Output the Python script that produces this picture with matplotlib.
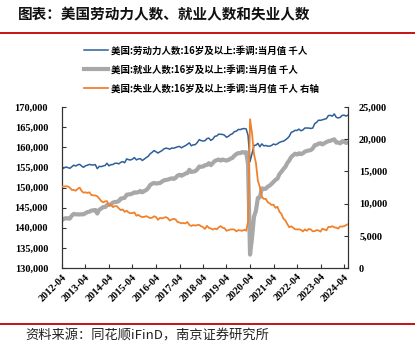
import matplotlib
matplotlib.use("Agg")
import matplotlib.pyplot as plt
import matplotlib.dates as mdates
from matplotlib.font_manager import FontProperties
from matplotlib.lines import Line2D
from matplotlib.ticker import FuncFormatter, MultipleLocator
import pandas as pd

plt.rcParams['font.family'] = ['Noto Sans CJK SC', 'DejaVu Sans']

# Monthly, seasonally adjusted, thousands of persons (2012-04 .. 2024-06)
months = pd.date_range("2012-04-01", "2024-06-01", freq="MS")

labor_force = [
    154545, 154866, 155083, 154948, 154763, 155160, 155554, 155338, 155628,
    155763, 155312, 155005, 155394, 155536, 155749, 155599, 155605, 155687, 154673, 155265, 155182,
    155352, 155483, 156028, 155369, 155684, 155707, 156009, 156050, 155869, 156250, 156421, 156159,
    157104, 156907, 156835, 157049, 157435, 156852, 157090, 157160, 156715, 157047, 157440, 157737,
    158370, 158748, 159176, 158882, 158555, 158887, 159147, 159575, 159781, 159690, 159515, 159805,
    159761, 159945, 160103, 160216, 159853, 160153, 160387, 160727, 161090, 160367, 160612, 160644,
    161149, 161894, 161664, 161560, 161604, 162144, 162269, 161698, 162035, 162709, 162809, 163253,
    163210, 163176, 162995, 162477, 162724, 163136, 163344, 163876, 163985, 164419, 164382, 164575,
    164653, 164546, 162954, 156435, 158435, 160433, 160528, 160971, 160125, 160840, 160348, 160435,
    160267, 160285, 160448, 160810, 160619, 160859, 161200, 161400, 161500, 161800, 162200, 162700,
    163700, 163900, 164200, 164175, 164498, 164097, 164300, 164779, 164766, 164769, 164668, 164765,
    165868, 166204, 166722, 166684, 166826, 166983, 167110, 167869, 167930, 167716, 168280, 167451,
    167276, 167426, 167895, 167983, 167732, 168010,
]

employed = [
    141899, 142206, 142391, 142292, 142291, 143044, 143431, 143333, 143330,
    143292, 143362, 143316, 143635, 143882, 143999, 144264, 144326, 144418, 143537, 144479, 144778,
    145150, 145134, 145648, 145667, 145825, 146247, 146401, 146451, 146607, 147260, 147331, 147442,
    148201, 148297, 148331, 148523, 148795, 148739, 148840, 149136, 148800, 149120, 149379, 149830,
    150622, 150934, 151146, 150963, 151074, 151104, 151450, 151766, 151877, 151949, 152150, 152276,
    152128, 152417, 152958, 153150, 152920, 153176, 153456, 153591, 154399, 153847, 153945, 154065,
    154482, 155213, 155160, 155216, 155539, 155592, 156035, 155564, 156069, 156582, 156803, 156945,
    156694, 156949, 156800, 156696, 156844, 157148, 157346, 157895, 158298, 158544, 158536, 158803,
    158714, 158759, 155772, 133326, 137460, 142736, 144220, 147429, 147590, 149791, 149620, 149699,
    150200, 150500, 150900, 151400, 151900, 152200, 153300, 153900, 154600, 155100, 156100, 156700,
    157600, 158000, 158400, 158200, 158500, 158300, 158500, 158900, 159100, 159200, 159300, 159700,
    160500, 160600, 160900, 161000, 160700, 161000, 161300, 161500, 161600, 161800, 161969, 161183,
    161152, 160968, 161466, 161491, 161083, 161199,
]

unemployed = [
    12646, 12660, 12692, 12656, 12471, 12115, 12124, 12005, 12298,
    12471, 11950, 11689, 11760, 11654, 11751, 11335, 11279, 11270, 11136, 10787, 10404,
    10202, 10349, 10380, 9702, 9859, 9460, 9608, 9599, 9262, 8990, 9090, 8717,
    8903, 8610, 8504, 8526, 8640, 8113, 8250, 8024, 7915, 7927, 8061, 7907,
    7748, 7814, 8030, 7919, 7481, 7783, 7697, 7809, 7904, 7741, 7365, 7529,
    7633, 7528, 7145, 7066, 6933, 6977, 6931, 7136, 6691, 6520, 6667, 6579,
    6667, 6681, 6504, 6344, 6065, 6552, 6234, 6134, 5966, 6127, 6006, 6308,
    6516, 6227, 6195, 5781, 5880, 5988, 5998, 5981, 5687, 5875, 5846, 5772,
    5939, 5787, 7182, 23109, 20975, 17697, 16308, 13542, 12535, 11049, 10728, 10736,
    10220, 10023, 9788, 9835, 9331, 9503, 8744, 8401, 7669, 7402, 6820, 6322,
    6474, 6242, 6021, 5981, 6010, 5924, 5676, 5991, 5782, 6070, 5979, 5693,
    5730, 5889, 5829, 5653, 6105, 5980, 5839, 6385, 6360, 6494, 6311, 6268,
    6124, 6458, 6429, 6492, 6649, 6811,
]

series_labels = [
    "美国:劳动力人数:16岁及以上:季调:当月值 千人",
    "美国:就业人数:16岁及以上:季调:当月值 千人",
    "美国:失业人数:16岁及以上:季调:当月值 千人 右轴",
]
title_text = "图表：美国劳动力人数、就业人数和失业人数"
source_text = "资料来源：同花顺iFinD，南京证券研究所"

c_lf = "#2F5F98"
c_emp = "#A8A8A8"
c_un = "#F0822E"
c_red = "#C00000"

W, H = 415, 347
fig = plt.figure(figsize=(W / 100, H / 100), dpi=100)
fig.patch.set_facecolor("white")

ax = fig.add_axes([62 / W, 1 - 268 / H, (348 - 62) / W, (268 - 107) / H])
ax2 = ax.twinx()

ax.plot(months, employed, color=c_emp, lw=3.0, solid_capstyle="butt", zorder=2)
ax.plot(months, labor_force, color=c_lf, lw=1.1, zorder=3)
ax2.plot(months, unemployed, color=c_un, lw=1.3, zorder=3)

ax.set_xlim(months[0], months[-1])
ax.set_ylim(130000, 170000)
ax2.set_ylim(0, 25000)
ax.yaxis.set_major_locator(MultipleLocator(5000))
ax2.yaxis.set_major_locator(MultipleLocator(5000))
fmt = FuncFormatter(lambda v, p: f"{int(v):,}")
ax.yaxis.set_major_formatter(fmt)
ax2.yaxis.set_major_formatter(fmt)

ax.xaxis.set_major_locator(mdates.MonthLocator(bymonth=4))
ax.xaxis.set_major_formatter(mdates.DateFormatter("%Y-%m"))

tick_font = FontProperties(family="Liberation Serif", weight="bold", size=7.5)
for a in (ax, ax2):
    a.tick_params(direction="in", length=3, width=0.8, color="#333333")
    a.spines["top"].set_visible(False)
    for s in a.spines.values():
        s.set_color("#333333")
        s.set_linewidth(0.8)
ax.tick_params(axis="y", pad=10)
ax2.tick_params(axis="y", pad=8)
ax.tick_params(axis="x", pad=3)
for lab in ax.get_yticklabels() + ax2.get_yticklabels():
    lab.set_fontproperties(tick_font)
for lab in ax.get_xticklabels():
    lab.set_fontproperties(tick_font)
    lab.set_rotation(45)
    lab.set_ha("right")
    lab.set_rotation_mode("anchor")

handles = [
    Line2D([], [], color=c_lf, lw=1.1),
    Line2D([], [], color=c_emp, lw=3.0),
    Line2D([], [], color=c_un, lw=1.3),
]
fig.legend(handles, series_labels, loc="upper left",
           bbox_to_anchor=(80 / W, 1 - 42 / H), frameon=False,
           prop=dict(family=["Noto Sans CJK SC", "DejaVu Sans"], weight="bold", size=6.8),
           handlelength=2.6, handletextpad=0.3, labelspacing=0.95, borderaxespad=0)

fig.text(18 / W, 1 - 14 / H, title_text, fontsize=10.5, fontweight="bold",
         va="center", ha="left", color="#111111")
fig.text(25 / W, 1 - 336 / H, source_text, fontsize=9.5, va="center", ha="left",
         color="#222222")

fig.add_artist(Line2D([0, 1], [1 - 33 / H, 1 - 33 / H], transform=fig.transFigure,
                      color=c_red, lw=1.3))
fig.add_artist(Line2D([0, 1], [1 - 324 / H, 1 - 324 / H], transform=fig.transFigure,
                      color=c_red, lw=1.3))

fig.savefig("out.png", dpi=100, facecolor="white")
